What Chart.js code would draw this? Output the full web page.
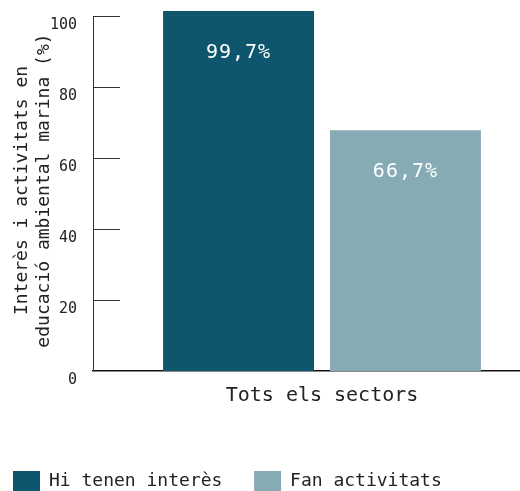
<!DOCTYPE html>
<html>
<head>
<meta charset="utf-8">
<script src="https://cdn.jsdelivr.net/npm/chart.js@4"></script>
<style>
  html, body { margin: 0; padding: 0; background: #fff; overflow: hidden; }
  #wrap { width: 551px; height: 501px; }
</style>
</head>
<body>
<div id="wrap"><canvas id="chart"></canvas></div>
<script>
// data
const categories = ['Tots els sectors'];
const seriesNames = ['Hi tenen interès', 'Fan activitats'];
const interestValues = [99.7];
const activityValues = [66.7];
const yTickValues = [0, 20, 40, 60, 80, 100];
const yAxisTitle = ['Interès i activitats en', 'educació ambiental marina (%)'];

const darkBlue = '#0d566d';
const lightBlue = '#87abb5';

Chart.defaults.font.family = "'DejaVu Sans Mono', monospace";
Chart.defaults.color = '#222';

// tick marks drawn inside the plot, plus the y axis line, from the visible y scale
const innerTicks = {
    id: 'innerTicks',
    afterDraw(chart) {
        const ctx = chart.ctx;
        const s = chart.scales.y2;
        const left = chart.chartArea.left;
        ctx.save();
        ctx.strokeStyle = '#333';
        ctx.lineWidth = 1;
        ctx.beginPath();
        yTickValues.forEach(v => {
            if (v === 0) return;
            const y = Math.round(s.getPixelForValue(v)) + 0.5;
            ctx.moveTo(left, y);
            ctx.lineTo(left + 27, y);
        });
        ctx.moveTo(left + 0.5, Math.round(s.getPixelForValue(100)));
        ctx.lineTo(left + 0.5, Math.round(s.getPixelForValue(0)));
        ctx.stroke();
        ctx.restore();
    }
};

// value labels inside the bars
const barLabels = {
    id: 'barLabels',
    afterDatasetsDraw(chart) {
        const ctx = chart.ctx;
        ctx.save();
        ctx.font = "20px 'DejaVu Sans Mono'";
        ctx.fillStyle = '#fff';
        ctx.textAlign = 'center';
        ctx.textBaseline = 'middle';
        ctx.letterSpacing = '1px';
        chart.data.datasets.forEach((ds, i) => {
            chart.getDatasetMeta(i).data.forEach((bar, j) => {
                const txt = ds.data[j].toFixed(1).replace('.', ',') + '%';
                ctx.fillText(txt, bar.x, bar.y + 41.5);
            });
        });
        ctx.restore();
    }
};

const ctx = document.getElementById('chart').getContext('2d');
new Chart(ctx, {
    type: 'bar',
    data: {
        labels: categories,
        datasets: [{
            label: seriesNames[0],
            data: interestValues,
            backgroundColor: darkBlue,
            yAxisID: 'y'
        }, {
            label: seriesNames[1],
            data: activityValues,
            backgroundColor: lightBlue,
            yAxisID: 'y'
        }]
    },
    options: {
        responsive: true,
        maintainAspectRatio: false,
        animation: false,
        layout: { padding: { left: 3, top: 0, right: 0, bottom: 0 } },
        categoryPercentage: 0.729,
        barPercentage: 0.904,
        plugins: {
            tooltip: { enabled: false },
            legend: {
                position: 'bottom',
                align: 'start',
                labels: {
                    boxWidth: 27,
                    boxHeight: 20,
                    padding: 10,
                    font: { size: 18 },
                    color: '#222',
                    generateLabels(chart) {
                        const items = Chart.defaults.plugins.legend.labels.generateLabels(chart);
                        items.forEach(it => { it.text += '  '; it.lineWidth = 0; });
                        return items;
                    }
                }
            }
        },
        scales: {
            x: {
                grid: { display: false, drawTicks: false, tickLength: 0 },
                border: { display: true, color: '#111', width: 1.5 },
                ticks: { font: { size: 20 }, padding: 13, color: '#222' },
                afterFit(scale) { scale.height = 90; }
            },
            y: {
                display: false,
                min: 0,
                max: 100
            },
            y2: {
                position: 'left',
                min: 0,
                max: 101.7,
                grid: { display: false, drawTicks: false, tickLength: 0 },
                border: { display: false },
                ticks: {
                    stepSize: 20,
                    includeBounds: false,
                    padding: 16,
                    labelOffset: 9,
                    font: { size: 15 },
                    color: '#222'
                },
                title: {
                    display: true,
                    text: yAxisTitle,
                    font: { size: 18, lineHeight: 1.22 },
                    color: '#222',
                    padding: { top: 8, bottom: 0 }
                },
                afterFit(scale) {
                    scale.width = 90;
                    scale.paddingTop = 10;
                    scale.paddingBottom = 0;
                }
            }
        }
    },
    plugins: [innerTicks, barLabels]
});
</script>
</body>
</html>
